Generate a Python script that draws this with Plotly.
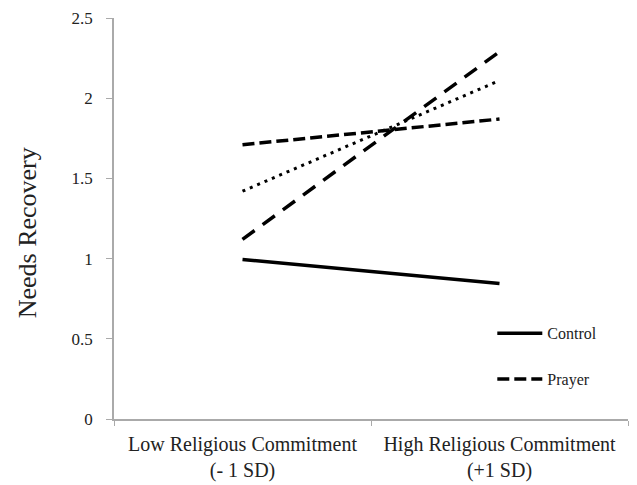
import plotly.graph_objects as go

categories = ["Low Religious Commitment<br>(- 1 SD)", "High Religious Commitment<br>(+1 SD)"]
control = [0.995, 0.845]
prayer = [1.71, 1.87]
series_longdash = [1.12, 2.29]
series_dot = [1.42, 2.11]
y_ticks = [0, 0.5, 1, 1.5, 2, 2.5]
y_ticklabels = ["0", "0.5", "1", "1.5", "2", "2.5"]
y_title = "Needs Recovery"

FONT = "Liberation Serif, Times New Roman, serif"

fig = go.Figure()
fig.add_trace(go.Scatter(x=categories, y=series_longdash, mode="lines", showlegend=False,
                         line=dict(color="black", width=3.5, dash="15px,10px")))
fig.add_trace(go.Scatter(x=categories, y=series_dot, mode="lines", showlegend=False,
                         line=dict(color="black", width=3, dash="3px,5px")))
fig.add_trace(go.Scatter(x=categories, y=control, mode="lines", name="Control", legendgroup="a",
                         line=dict(color="black", width=3.5)))
fig.add_trace(go.Scatter(x=categories, y=prayer, mode="lines", name="Prayer", legendgroup="b",
                         line=dict(color="black", width=3.5, dash="12px,5px")))

fig.update_layout(
    width=637, height=485,
    margin=dict(l=106, r=17, t=10, b=74),
    paper_bgcolor="white", plot_bgcolor="white",
    font=dict(family=FONT, color="#222"),
    legend=dict(x=0.736, y=0.256, xanchor="left", yanchor="top",
                font=dict(size=16, family=FONT), tracegroupgap=22,
                itemwidth=45, bgcolor="rgba(0,0,0,0)"),
    xaxis=dict(type="category", range=[-0.5, 1.5], automargin=False,
               showline=True, linecolor="#aaa", linewidth=1.5,
               ticks="outside", tickson="boundaries", ticklen=5, tickcolor="#aaa",
               ticklabelstandoff=6,
               showgrid=False, tickfont=dict(size=20, family=FONT, color="#222")),
    yaxis=dict(range=[0, 2.5], tickvals=y_ticks, ticktext=y_ticklabels, automargin=False,
               showline=True, linecolor="#aaa", linewidth=1.5,
               ticks="outside", ticklen=6, tickcolor="#aaa", showgrid=False,
               ticklabelstandoff=10, ticklabeloverflow="allow",
               zeroline=False, tickfont=dict(size=17, family=FONT, color="#222")),
    annotations=[dict(text=y_title, textangle=-90, xref="paper", yref="paper",
                      x=0, y=0.463, xanchor="center", yanchor="middle", xshift=-87,
                      showarrow=False, font=dict(size=26, family=FONT, color="#222"))],
)

fig.write_html("out.html")
